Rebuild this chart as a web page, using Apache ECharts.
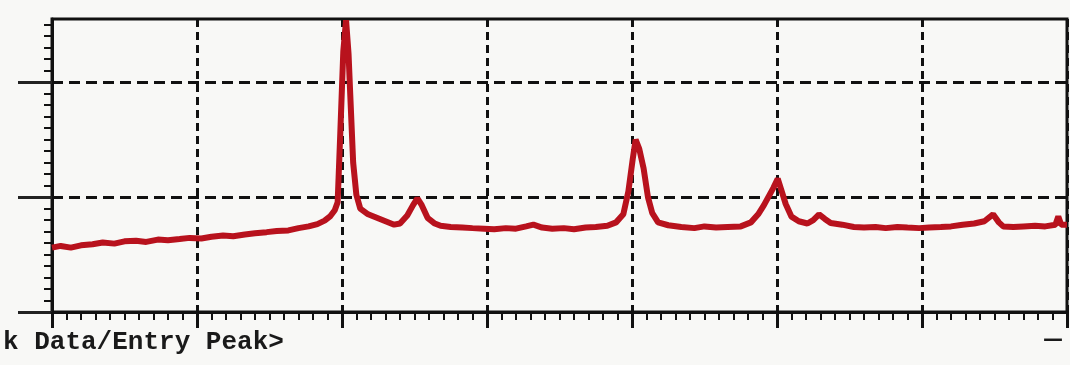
<!DOCTYPE html>
<html>
<head>
<meta charset="utf-8">
<script src="https://cdn.jsdelivr.net/npm/echarts@6/dist/echarts.min.js"></script>
<style>
  html, body { margin: 0; padding: 0; background: #f8f8f6; }
  #chart { width: 1070px; height: 365px; }
</style>
</head>
<body>
<div id="chart"></div>
<script>
// 2theta (deg) and intensity
const twoTheta = [
  10.0, 10.6, 11.3, 12.0, 12.8, 13.5, 14.3, 15.0, 15.8, 16.5, 17.3, 18.0, 18.8, 19.5,
  20.3, 21.0, 21.8, 22.5, 23.3, 24.0, 24.8, 25.5, 26.3, 27.0, 27.7, 28.3, 28.8, 29.2,
  29.5, 29.7, 29.88, 30.09, 30.28, 30.45, 30.57, 30.77, 30.99, 31.26, 31.8, 32.4, 33.0,
  33.6, 34.0, 34.5, 34.9, 35.2, 35.5, 35.9, 36.4, 36.8, 37.5, 38.3, 39.0, 39.8, 40.5,
  41.3, 42.0, 42.7, 43.2, 43.8, 44.5, 45.3, 46.0, 46.8, 47.5, 48.3, 48.9, 49.4, 49.75,
  50.05, 50.25, 50.5, 50.8, 51.1, 51.4, 51.8, 52.5, 53.4, 54.3, 55.0, 55.8, 56.6, 57.5,
  58.2, 58.7, 59.1, 59.4, 59.75, 60.05, 60.3, 60.6, 61.0, 61.5, 62.1, 62.5, 62.9, 63.3,
  63.7, 64.5, 65.3, 66.0, 66.8, 67.5, 68.3, 69.0, 69.8, 70.5, 71.3, 72.0, 72.8, 73.6,
  74.3, 74.9, 75.3, 75.6, 76.3, 77.0, 77.8, 78.5, 79.2, 79.4, 79.6, 80.0
];
const intensity = [
  560, 575, 560, 580, 590, 605, 595, 615, 620, 610, 630, 625, 635, 645,
  640, 655, 665, 660, 675, 685, 695, 705, 710, 730, 745, 765, 795, 835,
  885, 955, 1550, 2270, 2540, 2250, 1890, 1300, 1020, 900, 850, 820, 790,
  760, 770, 840, 930, 990, 930, 820, 770, 750, 740, 735, 730, 725, 720,
  730, 725, 745, 760, 735, 725, 730, 720, 735, 740, 750, 780, 850, 1050,
  1330, 1500, 1420, 1250, 1000, 860, 780, 755, 740, 730, 745, 735, 740, 745,
  780, 850, 930, 1000, 1080, 1160, 1060, 940, 830, 790, 770, 800, 850, 810,
  775, 760, 740, 735, 740, 730, 740, 735, 730, 735, 740, 745, 760, 770,
  790, 850, 780, 745, 740, 745, 750, 745, 760, 830, 760, 760
];
const yTicks = [0, 1000, 2000];
const footerText = "k Data/Entry Peak>";
const cornerText = "—";

const points = twoTheta.map((t, i) => [t, intensity[i]]);

let chart = echarts.init(document.getElementById("chart"));
let option = {
  backgroundColor: "#f8f8f6",
  animation: false,
  grid: {
    left: 52,
    right: 3,
    top: 19,
    bottom: 53,
    show: true,
    borderColor: "#111",
    borderWidth: 3
  },
  xAxis: {
    type: "value",
    min: 10,
    max: 80,
    interval: 10,
    axisLine: { show: true, lineStyle: { color: "#111", width: 3 } },
    axisTick: { show: true, length: 16, lineStyle: { color: "#111", width: 3 } },
    minorTick: { show: true, splitNumber: 10, length: 8, lineStyle: { color: "#111", width: 2 } },
    axisLabel: { show: false },
    splitLine: {
      show: true,
      lineStyle: { color: "#111", width: 3, type: [8, 5] }
    }
  },
  yAxis: {
    type: "value",
    min: 0,
    max: 2550,
    interval: 1000,
    axisLine: { show: true, lineStyle: { color: "#111", width: 3 } },
    axisTick: {
      show: true,
      length: 34,
      customValues: yTicks,
      lineStyle: { color: "#222", width: 3 }
    },
    minorTick: { show: true, splitNumber: 10, length: 8, lineStyle: { color: "#111", width: 2 } },
    axisLabel: { show: false },
    splitLine: {
      show: true,
      lineStyle: { color: "#111", width: 3, type: [11, 6] }
    }
  },
  graphic: [
    {
      type: "text",
      left: 3,
      top: 329,
      style: {
        text: footerText,
        fill: "#1a1a1a",
        font: 'bold 26px "Liberation Mono", "DejaVu Sans Mono", monospace'
      }
    },
    {
      type: "text",
      left: 1043,
      top: 330,
      style: {
        text: cornerText,
        fill: "#1a1a1a",
        font: 'bold 20px "DejaVu Sans", sans-serif'
      }
    }
  ],
  series: [
    {
      name: "XRD",
      type: "line",
      data: points,
      showSymbol: false,
      smooth: false,
      lineStyle: { color: "#b8121d", width: 6 },
      z: 3
    }
  ]
};
chart.setOption(option);
</script>
</body>
</html>
